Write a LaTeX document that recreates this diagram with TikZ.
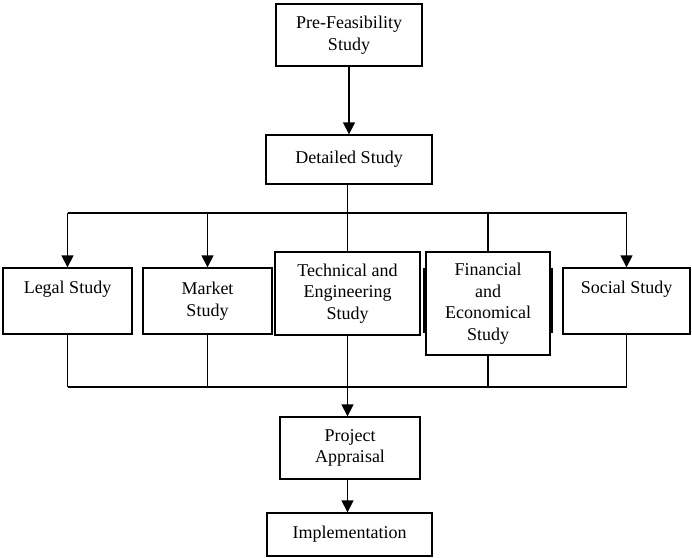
\documentclass[tikz,border=0pt]{standalone}
\usepackage{fontspec}
\setmainfont{Liberation Serif}
\usetikzlibrary{arrows.meta}
\begin{document}
\begin{tikzpicture}[x=1pt, y=-1pt, font=\fontsize{18}{21.5}\selectfont]

        % Stili globali per blocchi e frecce
        \tikzset{
          every path/.style={line width=1.3pt},
          blocco/.style={draw, align=center, inner sep=2pt},
          freccia/.style={-{Triangle[width=12pt, length=12pt]}}
        }

        % Area del disegno
        \useasboundingbox (0,0) rectangle (692,557);

        % Blocchi in alto
        \node[blocco, minimum width=146pt, minimum height=62pt] (pre) at (349,35) {Pre-Feasibility\\Study};
        \node[blocco, minimum width=166pt, minimum height=49pt] (det) at (349,159.5) {Detailed Study};

        % Blocchi degli studi
        \node[blocco, minimum width=129pt, minimum height=66pt] (legal) at (67.5,301) {Legal Study\\\strut};
        \node[blocco, minimum width=129pt, minimum height=66pt] (market) at (207.5,301) {Market\\Study};
        \node[blocco, minimum width=145pt, minimum height=83pt] (tech) at (347.5,293.5) {Technical and\\Engineering\\Study};
        \node[blocco, minimum width=124pt, minimum height=103pt] (fin) at (488,303.5) {Financial\\and\\Economical\\Study};
        \node[blocco, minimum width=127pt, minimum height=66pt] (social) at (626.5,301) {Social Study\\\strut};

        % Blocchi in basso
        \node[blocco, minimum width=140pt, minimum height=62pt] (proj) at (350,448) {Project\\Appraisal};
        \node[blocco, minimum width=165pt, minimum height=43pt] (impl) at (349.5,534.5) {Implementation};

        % Bordi spessi ai lati del blocco finanziario
        \draw[line width=2.5pt] (424,268) -- (424,333);
        \draw[line width=2.5pt] (552,268) -- (552,333);

        % Linee di distribuzione e raccolta
        \coordinate (bus) at (0,213);
        \coordinate (join) at (0,387);

        \draw[freccia] (pre) -- (det);
        \draw (det.south -| tech.north) -- (tech.north);
        \draw (legal.north |- bus) -- (social.north |- bus);
        \foreach \n in {legal, market, social}
          \draw[freccia] (\n.north |- bus) -- (\n.north);
        \draw (fin.north |- bus) -- (fin.north);

        \draw (legal.south |- join) -- (social.south |- join);
        \foreach \n in {legal, market, tech, fin, social}
          \draw (\n.south) -- (\n.south |- join);
        \draw[freccia] (tech.south |- join) -- (tech.south |- proj.north);
        \draw[freccia] (proj.south -| tech.south) -- (impl.north -| tech.south);

    \end{tikzpicture}
\end{document}
